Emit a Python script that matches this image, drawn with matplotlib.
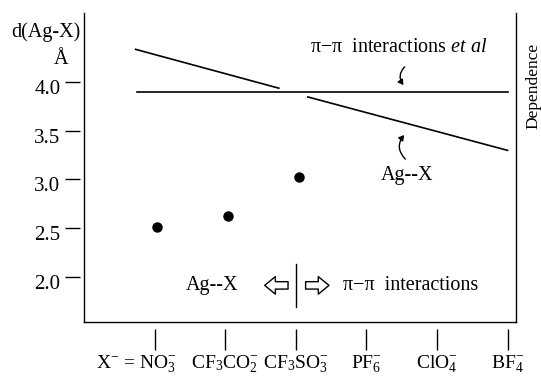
import matplotlib
matplotlib.use("Agg")
import matplotlib.pyplot as plt
import matplotlib.transforms as mtransforms
from matplotlib.patches import FancyArrowPatch

plt.rcParams['font.family'] = ['Liberation Serif', 'DejaVu Sans']
plt.rcParams['mathtext.fontset'] = 'custom'
plt.rcParams['mathtext.rm'] = 'Liberation Serif'
plt.rcParams['mathtext.it'] = 'Liberation Serif:italic'
plt.rcParams['mathtext.bf'] = 'Liberation Serif:bold'

# ---- data ----
categories = [r"X$^{-}$ = NO$_3^{-}$", r"CF$_3$CO$_2^{-}$", r"CF$_3$SO$_3^{-}$",
              r"PF$_6^{-}$", r"ClO$_4^{-}$", r"BF$_4^{-}$"]
dot_x = [0.04, 1.04, 2.04]
dot_y = [2.51, 2.62, 3.03]
# schematic trend lines (x in category units, y in Å)
agx_upper_x = [-0.27, 1.76]
agx_upper_y = [4.34, 3.94]
pipi_x = [-0.25, 5.0]
pipi_y = [3.90, 3.90]
agx_lower_x = [2.17, 5.0]
agx_lower_y = [3.85, 3.30]
yticks = [2.0, 2.5, 3.0, 3.5, 4.0]
ytick_labels = ["2.0", "2.5", "3.0", "3.5", "4.0"]

fig = plt.figure(figsize=(5.41, 3.77), dpi=100)
ax = fig.add_axes([84/541, 1-322/377, 432/541, 309/377])
ax.set_xlim(-1.0, 5.12)
ax.set_ylim(1.533, 4.714)

for s in ['left', 'right', 'bottom']:
    ax.spines[s].set_linewidth(1.0)
ax.spines['top'].set_visible(False)
ax.tick_params(left=False, bottom=False, labelleft=False, labelbottom=False)

fs = 14.5
# detached y ticks
sy = ax.secondary_yaxis('left')
sy.spines['left'].set_position(('outward', 3))
sy.spines['left'].set_visible(False)
sy.set_yticks(yticks)
sy.set_yticklabels(ytick_labels)
sy.tick_params(axis='y', length=11, width=1.0, pad=3, labelsize=15, direction='out')
yoff = mtransforms.ScaledTranslation(0, -0.05, fig.dpi_scale_trans)
for lab in sy.get_yticklabels():
    lab.set_transform(lab.get_transform() + yoff)

# detached x ticks
sx = ax.secondary_xaxis('bottom')
sx.spines['bottom'].set_position(('outward', 5))
sx.spines['bottom'].set_visible(False)
sx.set_xticks(range(len(categories)))
sx.set_xticklabels(categories)
sx.tick_params(axis='x', length=15, width=1.0, pad=2.5, labelsize=14, direction='out')
first = sx.get_xticklabels()[0]
first.set_ha('right')
first.set_transform(first.get_transform() +
                    mtransforms.ScaledTranslation(0.22, 0, fig.dpi_scale_trans))

# lines
ax.plot(agx_upper_x, agx_upper_y, color='black', lw=1.2)
ax.plot(pipi_x, pipi_y, color='black', lw=1.2)
ax.plot(agx_lower_x, agx_lower_y, color='black', lw=1.2)
ax.plot(dot_x, dot_y, 'o', color='black', markersize=6.5, linestyle='none')

# annotations
ax.text(3.46, 4.36, r"π−π  interactions $\mathit{et\ al}$", ha='center', va='center', fontsize=fs)
ax.add_patch(FancyArrowPatch((3.57, 4.18), (3.55, 3.95), connectionstyle="arc3,rad=0.5",
                             arrowstyle='-|>,head_length=3,head_width=1.8', color='black', lw=1.0))
ax.text(3.57, 3.04, "Ag--X", ha='center', va='center', fontsize=fs)
ax.add_patch(FancyArrowPatch((3.58, 3.19), (3.56, 3.48), connectionstyle="arc3,rad=-0.5",
                             arrowstyle='-|>,head_length=3,head_width=1.8', color='black', lw=1.0))

ax.text(0.82, 1.91, "Ag--X", ha='center', va='center', fontsize=fs)
hollow = 'simple,head_length=0.55,head_width=0.9,tail_width=0.38'
ax.add_patch(FancyArrowPatch((1.93, 1.91), (1.52, 1.91), arrowstyle=hollow, mutation_scale=14,
                             facecolor='white', edgecolor='black', lw=1.0))
ax.add_patch(FancyArrowPatch((2.10, 1.91), (2.51, 1.91), arrowstyle=hollow, mutation_scale=14,
                             facecolor='white', edgecolor='black', lw=1.0))
ax.text(3.63, 1.91, "π−π  interactions", ha='center', va='center', fontsize=fs)
ax.axvline(2, ymin=0.0485, ymax=0.188, color='black', lw=1.0)

fig.text(46/541, 1-32/377, "d(Ag-X)", ha='center', va='center', fontsize=fs)
fig.text(61/541, 1-60/377, "Å", ha='center', va='center', fontsize=fs)
fig.text(533/541, 1-86/377, "Dependence", ha='center', va='center', rotation=90, fontsize=12.5)

fig.savefig("out.png", dpi=100)
